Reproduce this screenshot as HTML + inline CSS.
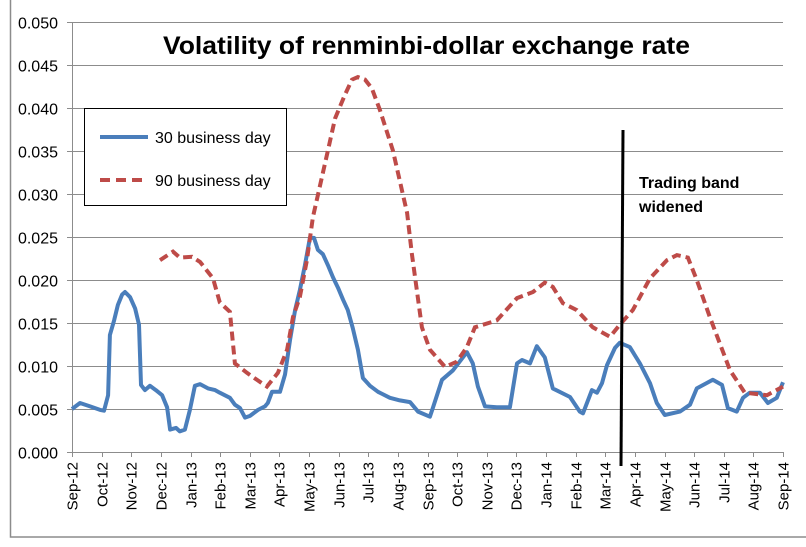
<!DOCTYPE html>
<html><head><meta charset="utf-8"><style>
html,body{margin:0;padding:0;background:#fff;}
svg{display:block;font-family:"Liberation Sans",sans-serif;}
</style></head><body>
<svg id="chart" width="806" height="547" viewBox="0 0 806 547" xmlns="http://www.w3.org/2000/svg">
<rect x="10.5" y="-2" width="800" height="539" fill="#fff" stroke="#8c8c8c" stroke-width="1.5"/>
<g id="grid"></g>
<g id="axes"></g>
<g id="series"></g>
<text x="163" y="54" font-size="25" font-weight="bold" textLength="527" lengthAdjust="spacingAndGlyphs" fill="#000">Volatility of renminbi-dollar exchange rate</text>
<g>
<rect x="84.5" y="108.5" width="202" height="97" fill="#fff" stroke="#000" stroke-width="1"/>
<line x1="100" y1="137" x2="148" y2="137" stroke="#4a7ebb" stroke-width="4"/>
<text x="155" y="143" font-size="16">30 business day</text>
<line x1="100" y1="180" x2="148" y2="180" stroke="#be4b48" stroke-width="4" stroke-dasharray="10,6"/>
<text x="155" y="186" font-size="16">90 business day</text>
</g>
<line x1="623" y1="130" x2="621" y2="466" stroke="#000" stroke-width="3"/>
<text font-size="16" font-weight="bold"><tspan x="639" y="188">Trading band</tspan><tspan x="639" y="212">widened</tspan></text>
</svg>
<script>
const monthLabels=["Sep-12","Oct-12","Nov-12","Dec-12","Jan-13","Feb-13","Mar-13","Apr-13","May-13","Jun-13","Jul-13","Aug-13","Sep-13","Oct-13","Nov-13","Dec-13","Jan-14","Feb-14","Mar-14","Apr-14","May-14","Jun-14","Jul-14","Aug-14","Sep-14"];
const yTicks=[0,0.005,0.01,0.015,0.02,0.025,0.03,0.035,0.04,0.045,0.05];
const vol30Months=[0,.27,.61,.95,1.08,1.22,1.28,1.42,1.55,1.69,1.79,1.96,2.13,2.26,2.33,2.46,2.63,2.83,3.04,3.21,3.31,3.51,3.64,3.81,3.98,4.15,4.32,4.59,4.83,4.99,5.33,5.5,5.67,5.84,6.01,6.28,6.51,6.61,6.75,7.02,7.19,7.36,7.53,7.69,7.86,8.03,8.17,8.3,8.47,8.64,8.81,8.98,9.15,9.31,9.48,9.65,9.82,10.06,10.33,10.73,11.07,11.41,11.68,12.08,12.18,12.49,12.86,13.33,13.53,13.7,13.94,14.34,14.78,15.02,15.19,15.46,15.69,15.96,16.23,16.81,17.14,17.25,17.55,17.72,17.89,18.06,18.33,18.49,18.83,19.17,19.51,19.74,20.01,20.52,20.86,21.09,21.63,21.94,22.14,22.44,22.65,22.88,23.22,23.49,23.79,24];
const vol30Values=[.005,.0057,.0053,.0049,.0048,.0066,.0136,.0153,.0171,.0183,.0186,.018,.0167,.0148,.0078,.0072,.0077,.0072,.0066,.0052,.0026,.0028,.0024,.0026,.0049,.0077,.0079,.0074,.0072,.0069,.0063,.0055,.0051,.004,.0042,.0049,.0053,.0057,.007,.007,.009,.013,.0165,.0188,.0217,.0249,.0249,.0235,.023,.0217,.0203,.0191,.0177,.0165,.0144,.0119,.0086,.0077,.007,.0063,.006,.0058,.0047,.0041,.0051,.0084,.0095,.0116,.0103,.0076,.0053,.0052,.0052,.0103,.0107,.0103,.0123,.011,.0074,.0064,.0047,.0045,.0072,.0069,.008,.0101,.0121,.0127,.0122,.0103,.008,.0057,.0043,.0047,.0055,.0074,.0084,.0078,.0051,.0047,.0063,.0069,.0069,.0057,.0063,.0081];
const vol90Months=[2.97,3.41,3.64,4.05,4.32,4.76,4.99,5.33,5.5,5.91,6.24,6.58,6.95,7.26,7.46,7.69,7.93,8.13,8.44,8.64,8.88,9.21,9.45,9.65,9.89,10.12,10.39,10.83,11.31,11.47,11.81,12.08,12.59,12.99,13.33,13.6,14.34,15.02,15.56,15.96,16.23,16.57,17.04,17.58,18.16,18.49,18.93,19.51,20.08,20.42,20.79,21.09,21.53,22.21,22.71,23.46,24];
const vol90Values=[.0223,.0233,.0226,.0227,.0221,.0202,.0174,.0163,.0103,.0092,.0084,.0076,.0092,.0119,.0157,.018,.0223,.0273,.032,.0351,.0388,.0415,.0433,.0436,.0433,.0423,.0398,.0351,.0278,.0231,.0145,.0119,.0099,.0105,.0122,.0145,.0153,.0179,.0186,.0197,.0192,.0173,.0165,.0145,.0134,.0148,.0165,.0202,.0223,.0229,.0226,.02,.0157,.0095,.0069,.0066,.0076];

const NS="http://www.w3.org/2000/svg";
const X0=72,X1=783,Y0=452,Y1=22;
const xs=m=>X0+(X1-X0)*m/24;
const ys=v=>Y0-(Y0-Y1)*v/0.05;
function mk(tag,attrs,parent){const e=document.createElementNS(NS,tag);for(const k in attrs)e.setAttribute(k,attrs[k]);parent.appendChild(e);return e;}
const grid=document.getElementById('grid'),axes=document.getElementById('axes'),series=document.getElementById('series');
yTicks.forEach(t=>{
  const y=Math.round(ys(t))+0.5;
  if(t>0){const g=mk('line',{x1:X0,x2:X1,y1:y,y2:y,stroke:'#8c8c8c','stroke-width':1},grid);
  
  }
  const tk=mk('line',{x1:X0-5,x2:X0,y1:y,y2:y,stroke:'#8c8c8c'},axes);
  
  
  const l=mk('text',{x:X0-14,y:y+6,'text-anchor':'end','font-size':16},axes);
  
  
  l.textContent=t.toFixed(3);
});
const ya=mk('line',{x1:X0+0.5,x2:X0+0.5,y1:Y1,y2:Y0,stroke:'#8c8c8c'},axes);


const xa=mk('line',{x1:X0,x2:X1,y1:Y0+0.5,y2:Y0+0.5,stroke:'#8c8c8c'},axes);


monthLabels.forEach((lab,i)=>{
  const x=Math.round(xs(i))+0.5;
  const tk=mk('line',{x1:x,x2:x,y1:Y0,y2:Y0+5,stroke:'#8c8c8c'},axes);
  
  
  const t=mk('text',{x:0,y:0,'text-anchor':'end','font-size':15,transform:`translate(${x+5},${Y0+10}) rotate(-90)`},axes);
  
  
  t.textContent=lab;
});
function path(ms,vs){return ms.map((m,i)=>(i?'L':'M')+xs(m).toFixed(1)+','+ys(vs[i]).toFixed(1)).join('');}
const p30=mk('path',{d:path(vol30Months,vol30Values),fill:'none',stroke:'#4a7ebb','stroke-width':4,'stroke-linejoin':'round'},series);


const p90=mk('path',{d:path(vol90Months,vol90Values),fill:'none',stroke:'#be4b48','stroke-width':4,'stroke-dasharray':'9,5'},series);


</script>
</body></html>
